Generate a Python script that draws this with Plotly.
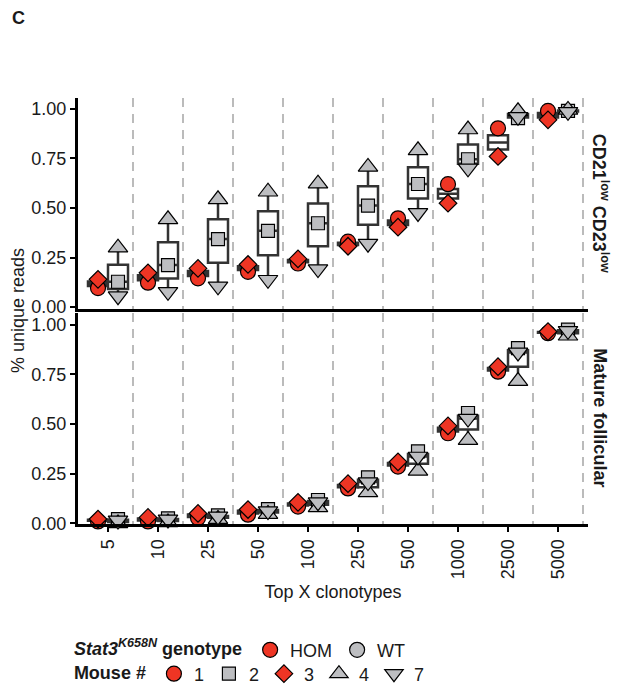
import numpy as np
import plotly.graph_objects as go
from plotly.subplots import make_subplots

# ---------------- data ----------------
categories = ["5", "10", "25", "50", "100", "250", "500", "1000", "2500", "5000"]
y_ticks = [0, 0.25, 0.5, 0.75, 1.0]
y_tick_labels = ["0.00", "0.25", "0.50", "0.75", "1.00"]
panel_labels = ["<b>CD21<sup>low</sup> CD23<sup>low</sup></b>", "<b>Mature follicular</b>"]

mice = ["1", "2", "3", "4", "7"]
mouse_genotype = ["HOM", "WT", "HOM", "WT", "WT"]
genotypes = ["HOM", "WT"]

# CD21low CD23low panel (% unique reads per mouse)
cd21_m1 = [0.096, 0.123, 0.145, 0.178, 0.220, 0.330, 0.448, 0.620, 0.902, 0.990]
cd21_m2 = [0.128, 0.212, 0.343, 0.385, 0.423, 0.512, 0.621, 0.746, 0.953, 0.990]
cd21_m3 = [0.140, 0.173, 0.195, 0.215, 0.243, 0.307, 0.403, 0.524, 0.760, 0.945]
cd21_m4 = [0.300, 0.443, 0.544, 0.582, 0.623, 0.707, 0.791, 0.896, 0.988, 0.995]
cd21_m7 = [0.055, 0.077, 0.105, 0.138, 0.192, 0.320, 0.475, 0.700, 0.960, 0.985]

# Mature follicular panel
mf_m1 = [0.010, 0.010, 0.027, 0.044, 0.085, 0.176, 0.286, 0.454, 0.764, 0.958]
mf_m2 = [0.022, 0.025, 0.040, 0.072, 0.118, 0.232, 0.363, 0.556, 0.883, 0.976]
mf_m3 = [0.022, 0.030, 0.050, 0.070, 0.106, 0.200, 0.310, 0.491, 0.789, 0.966]
mf_m4 = [0.000, 0.005, 0.022, 0.047, 0.081, 0.156, 0.265, 0.419, 0.717, 0.945]
mf_m7 = [0.015, 0.020, 0.035, 0.062, 0.107, 0.208, 0.337, 0.528, 0.861, 0.970]

panel_data = [
    [cd21_m1, cd21_m2, cd21_m3, cd21_m4, cd21_m7],
    [mf_m1, mf_m2, mf_m3, mf_m4, mf_m7],
]

# ---------------- style ----------------
FONT = "Liberation Sans, Arial, sans-serif"
TXT = "#1a1a1a"
geno_color = {"HOM": "#EE3524", "WT": "#BDBEC1"}
geno_offset = {"HOM": -0.2, "WT": 0.2}
mouse_symbol = {"1": "circle", "2": "square", "3": "diamond", "4": "triangle-up", "7": "triangle-down"}
mouse_size = {"1": 15, "2": 13, "3": 13.5, "4": 17, "7": 17}

fig = make_subplots(rows=2, cols=1, shared_xaxes=True, vertical_spacing=0.01)

xpos = np.arange(len(categories), dtype=float)

for p, series in enumerate(panel_data):
    row = p + 1
    # boxes per genotype
    for g in genotypes:
        vals = np.array([s for s, gg in zip(series, mouse_genotype) if gg == g])
        q1 = np.percentile(vals, 25, axis=0)
        med = np.percentile(vals, 50, axis=0)
        q3 = np.percentile(vals, 75, axis=0)
        lo = vals.min(axis=0)
        hi = vals.max(axis=0)
        fig.add_trace(go.Box(
            x=xpos + geno_offset[g], q1=q1, median=med, q3=q3,
            lowerfence=lo, upperfence=hi, width=0.4,
            fillcolor="white", line=dict(color="#333333", width=2.5),
            whiskerwidth=0, boxpoints=False, showlegend=False, hoverinfo="skip",
        ), row=row, col=1)
    # points per mouse
    for m, g, s in zip(mice, mouse_genotype, series):
        fig.add_trace(go.Scatter(
            x=xpos + geno_offset[g], y=s, mode="markers", name=m,
            marker=dict(symbol=mouse_symbol[m], size=mouse_size[m], color=geno_color[g],
                        line=dict(color="black", width=1.2)),
            cliponaxis=False, showlegend=(p == 0), legend="legend2",
        ), row=row, col=1)

# genotype legend entries
for g in genotypes:
    fig.add_trace(go.Scatter(
        x=[None], y=[None], mode="markers", name=g,
        marker=dict(symbol="circle", size=15, color=geno_color[g], line=dict(color="black", width=1.2)),
        showlegend=True, legend="legend",
    ), row=1, col=1)

minor_grid = dict(tickvals=[i + 0.5 for i in range(len(categories))], showgrid=True,
                  gridcolor="#BBBBBB", gridwidth=2.2, griddash="9px,7px", ticks="")

xcommon = dict(range=[-0.6, 9.6], showline=True, linecolor="black", linewidth=3,
               showgrid=False, zeroline=False, minor=minor_grid, automargin=False,
               tickvals=list(xpos), ticktext=categories)
ycommon = dict(tickvals=y_ticks, ticktext=y_tick_labels,
               ticks="outside", ticklen=5, tickwidth=1.5, tickcolor="black", automargin=False,
               showline=True, linecolor="black", linewidth=3, showgrid=False, zeroline=False,
               tickfont=dict(size=18, color=TXT, family=FONT))

fig.update_xaxes(**xcommon)
fig.update_xaxes(showticklabels=False, ticks="", row=1, col=1)
fig.update_xaxes(showticklabels=True, ticks="outside", ticklen=5, tickwidth=1.5, tickcolor="black",
                 tickangle=-90, tickfont=dict(size=18, color=TXT, family=FONT),
                 title=dict(text="Top X clonotypes", font=dict(size=18, color=TXT, family=FONT), standoff=8),
                 row=2, col=1)
fig.update_yaxes(**ycommon)

fig.update_layout(
    yaxis=dict(domain=[0.5045, 1.0], range=[-0.01, 1.055]),
    yaxis2=dict(domain=[0.0, 0.4955], range=[-0.003, 1.06]),
)

annotations = [
    dict(text=panel_labels[0], x=1.0235, y=0.752, xref="paper", yref="paper", textangle=90,
         showarrow=False, xanchor="center", yanchor="middle", font=dict(size=18, color=TXT, family=FONT)),
    dict(text=panel_labels[1], x=1.0235, y=0.248, xref="paper", yref="paper", textangle=90,
         showarrow=False, xanchor="center", yanchor="middle", font=dict(size=18, color=TXT, family=FONT)),
    dict(text="% unique reads", x=-0.1176, y=0.5, xref="paper", yref="paper", textangle=-90,
         showarrow=False, xanchor="center", yanchor="middle", font=dict(size=18, color=TXT, family=FONT)),
    dict(text="<b>C</b>", x=-0.1157, y=1.188, xref="paper", yref="paper",
         showarrow=False, xanchor="center", yanchor="middle", font=dict(size=18, color=TXT, family=FONT)),
]

fig.update_layout(
    width=617, height=691,
    margin=dict(l=78, r=29, t=98, b=167, autoexpand=False),
    paper_bgcolor="white", plot_bgcolor="white",
    font=dict(family=FONT, size=18, color=TXT),
    annotations=annotations,
    legend=dict(orientation="h", x=-0.012, xanchor="left", y=-0.296, yanchor="middle",
                title=dict(text="<b><i>Stat3</i><sup><i>K658N</i></sup> genotype</b>", side="left",
                           font=dict(size=18, color=TXT, family=FONT)),
                font=dict(size=18, color=TXT, family=FONT), itemwidth=30, bgcolor="rgba(0,0,0,0)"),
    legend2=dict(orientation="h", x=-0.012, xanchor="left", y=-0.352, yanchor="middle",
                 title=dict(text="<b>Mouse #</b>", side="left",
                            font=dict(size=18, color=TXT, family=FONT)),
                 font=dict(size=18, color=TXT, family=FONT), itemwidth=30, bgcolor="rgba(0,0,0,0)"),
    boxmode="overlay",
    showlegend=True,
)

fig.write_html("out.html")
